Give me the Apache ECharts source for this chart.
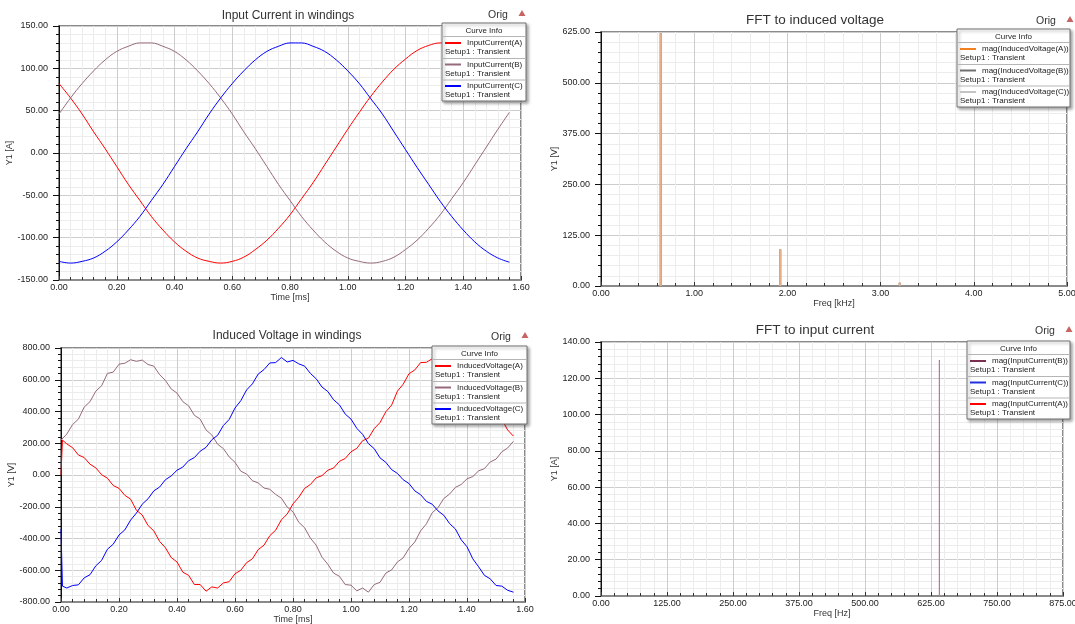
<!DOCTYPE html>
<html lang="en">
<head>
<meta charset="UTF-8">
<title>Windings</title>
<script src="https://cdn.jsdelivr.net/npm/echarts@6/dist/echarts.min.js"></script>
<style>
    html, body { margin: 0; padding: 0; background: #fff; }
    #main { width: 1075px; height: 624px; }
</style>
</head>
<body>
<div id="main"></div>
<script>
    // ---- input current [A] vs time [ms]
    var curTime = [0, 0.04, 0.08, 0.12, 0.16, 0.20, 0.24, 0.28, 0.32, 0.36, 0.40, 0.44, 0.48, 0.52, 0.56, 0.60, 0.64, 0.68, 0.72, 0.76,
        0.80, 0.84, 0.88, 0.92, 0.96, 1.00, 1.04, 1.08, 1.12, 1.16, 1.20, 1.24, 1.28, 1.32, 1.36, 1.40, 1.44, 1.48, 1.52, 1.56];
    var curA = [82, 65, 46, 25, 5, -16, -37, -56, -75, -91, -105, -116, -124, -128, -130, -128, -123, -114, -103, -89,
        -73, -54, -35, -14, 7, 28, 48, 67, 84, 99, 111, 121, 127, 130, 129, 126, 118, 108, 95, 80];
    var curB = [46, 65, 82, 97, 110, 120, 126, 130, 130, 126, 120, 110, 97, 82, 65, 46, 25, 5, -16, -37,
        -56, -75, -91, -105, -116, -124, -128, -130, -128, -123, -114, -103, -89, -73, -54, -35, -14, 7, 28, 48];
    var curC = [-128, -130, -128, -124, -116, -105, -91, -75, -56, -37, -16, 5, 25, 46, 65, 82, 97, 110, 120, 126,
        130, 130, 126, 120, 110, 97, 82, 64, 46, 25, 4, -17, -37, -57, -75, -91, -105, -116, -124, -129];

    // ---- induced voltage [V] vs time [ms]
    var voltTime = [0, 0.005, 0.02, 0.04, 0.06, 0.08, 0.10, 0.12, 0.14, 0.16, 0.18, 0.20, 0.22, 0.24, 0.26, 0.28, 0.30, 0.32, 0.34, 0.36,
        0.38, 0.40, 0.42, 0.44, 0.46, 0.48, 0.50, 0.52, 0.54, 0.56, 0.58, 0.60, 0.62, 0.64, 0.66, 0.68, 0.70, 0.72, 0.74, 0.76,
        0.78, 0.80, 0.82, 0.84, 0.86, 0.88, 0.90, 0.92, 0.94, 0.96, 0.98, 1.00, 1.02, 1.04, 1.06, 1.08, 1.10, 1.12, 1.14, 1.16,
        1.18, 1.20, 1.22, 1.24, 1.26, 1.28, 1.30, 1.32, 1.34, 1.36, 1.38, 1.40, 1.42, 1.44, 1.46, 1.48, 1.50, 1.52, 1.54, 1.56];
    var voltA = [0, 220, 196, 172, 126, 110, 68, 45, 2, -20, -66, -84, -128, -152, -222, -252, -318, -352, -418, -458,
        -520, -548, -612, -632, -690, -690, -732, -705, -712, -680, -672, -622, -600, -552, -528, -470, -442, -382, -348, -282,
        -246, -182, -140, -84, -60, -18, -4, 30, 44, 86, 104, 146, 168, 216, 232, 292, 330, 398, 440, 528,
        572, 638, 662, 708, 710, 732, 722, 730, 704, 686, 632, 600, 544, 510, 458, 436, 384, 350, 284, 245];
    var voltB = [220, 232, 258, 318, 352, 428, 462, 528, 562, 640, 648, 698, 704, 726, 716, 724, 696, 686, 632, 596,
        542, 516, 462, 436, 376, 352, 284, 252, 194, 166, 114, 80, 24, 6, -36, -50, -82, -90, -122, -146,
        -202, -232, -298, -332, -398, -442, -518, -562, -618, -638, -690, -694, -730, -712, -738, -690, -676, -618, -598, -548,
        -522, -462, -422, -352, -308, -238, -206, -148, -120, -78, -60, -24, -10, 26, 40, 82, 100, 146, 170, 212];
    var voltC = [-340, -700, -712, -696, -692, -648, -628, -572, -538, -468, -436, -378, -346, -284, -240, -184, -150, -100, -76, -30,
        -6, 30, 50, 90, 110, 150, 174, 222, 250, 312, 350, 422, 468, 536, 574, 636, 664, 706, 708, 740,
        712, 722, 700, 686, 640, 606, 554, 526, 474, 442, 384, 352, 294, 256, 198, 166, 108, 80, 34, 10,
        -30, -54, -100, -124, -166, -184, -226, -254, -306, -340, -408, -452, -528, -578, -632, -654, -696, -700, -726, -738];

    // ---- FFT of induced voltage: freq [kHz], magnitude [V]
    var fftVFreq = [0.641, 1.923, 3.205];
    var fftVA = [622, 90, 8];
    var fftVB = [622, 90, 8];
    var fftVC = [622, 90, 8];

    // ---- FFT of input current: freq [Hz], magnitude [A]
    var fftIFreq = [641];
    var fftIA = [130];
    var fftIB = [130];
    var fftIC = [130];

    var FONT = '"Liberation Sans", Arial, sans-serif';
    var RED = '#ff0000', MAUVE = '#96697c', BLUE = '#0000ff';

    function pairs(xs, ys) {
        return xs.map(function (x, i) { return [x, ys[i]]; });
    }

    function xAxisOf(idx, min, max, step, name) {
        return {
            type: 'value', gridIndex: idx, min: min, max: max, interval: step,
            name: name, nameLocation: 'middle', nameGap: 13,
            nameTextStyle: { fontSize: 9, color: '#333', fontFamily: FONT },
            axisLine: { show: true, onZero: false, lineStyle: { color: '#8a8a8a', width: 2 } },
            axisTick: { show: true, inside: true, length: 4, lineStyle: { color: '#333' } },
            minorTick: { show: true, splitNumber: 5, length: 3, lineStyle: { color: '#333' } },
            axisLabel: { fontSize: 9, color: '#222', margin: 3, fontFamily: FONT,
                formatter: function (v) { return v.toFixed(2); } },
            splitLine: { show: true, lineStyle: { color: '#cdcdcd' } },
            minorSplitLine: { show: true, lineStyle: { color: '#ececec' } }
        };
    }

    function yAxisOf(idx, min, max, step, name, gap) {
        return {
            type: 'value', gridIndex: idx, min: min, max: max, interval: step,
            name: name, nameLocation: 'middle', nameRotate: 90, nameGap: gap,
            nameTextStyle: { fontSize: 9, color: '#333', fontFamily: FONT },
            axisLine: { show: true, onZero: false, lineStyle: { color: '#111', width: 1 } },
            axisTick: { show: true, length: 6, lineStyle: { color: '#111' } },
            minorTick: { show: true, splitNumber: 5, length: 3, lineStyle: { color: '#111' } },
            axisLabel: { fontSize: 9, color: '#222', margin: 11, fontFamily: FONT,
                formatter: function (v) { return v.toFixed(2); } },
            splitLine: { show: true, lineStyle: { color: '#cdcdcd' } },
            minorSplitLine: { show: true, lineStyle: { color: '#ececec' } }
        };
    }

    function line(name, idx, xs, ys, color, smooth) {
        return {
            name: name, type: 'line', xAxisIndex: idx, yAxisIndex: idx,
            data: pairs(xs, ys), smooth: smooth, showSymbol: false,
            lineStyle: { color: color, width: 1 }, itemStyle: { color: color }
        };
    }

    function spectrum(name, idx, xs, ys, color, width) {
        return {
            name: name, type: 'bar', xAxisIndex: idx, yAxisIndex: idx,
            data: pairs(xs, ys), barWidth: width, barGap: '-100%',
            itemStyle: { color: color }
        };
    }

    function title(text, x, y, size) {
        return {
            text: text, left: x, top: y, textAlign: 'center', padding: 0,
            textStyle: { fontSize: size, fontWeight: 'normal', color: '#333', fontFamily: FONT }
        };
    }

    // ---- the "Curve Info" boxes and the "Orig" marks
    function txt(x, y, s, size, align, color) {
        return {
            type: 'text', x: x, y: y, z: 101, silent: true,
            style: { text: s, fontSize: size, fontFamily: FONT, fill: color || '#222',
                align: align || 'left', verticalAlign: 'middle' }
        };
    }
    function seg(x1, y1, x2, y2, color, w) {
        return {
            type: 'line', z: 101, silent: true,
            shape: { x1: x1, y1: y1, x2: x2, y2: y2 },
            style: { stroke: color, lineWidth: w || 1 }
        };
    }
    function curveInfo(x, y, w, names, colors) {
        var out = [{
            type: 'rect', z: 100, silent: true,
            shape: { x: x, y: y, width: w, height: 78 },
            style: { fill: '#fff', stroke: '#707070', lineWidth: 1,
                shadowBlur: 3, shadowOffsetX: 2, shadowOffsetY: 2, shadowColor: 'rgba(0,0,0,0.35)' }
        }];
        out.push(txt(x + w / 2, y + 8, 'Curve Info', 8, 'center'));
        out.push(seg(x, y + 13.5, x + w, y + 13.5, '#b5b5b5'));
        names.forEach(function (n, i) {
            var r = y + 20 + i * 21.5;
            out.push(seg(x + 3, r, x + 19, r, colors[i], 2));
            out.push(txt(x + 25, r, n, 8));
            out.push(txt(x + 3, r + 9, 'Setup1 : Transient', 8));
            if (i < 2) out.push(seg(x, r + 15.5, x + w, r + 15.5, '#b5b5b5'));
        });
        return out;
    }
    function origMark(x, y) {
        var tx = x + 24, ty = y - 2;
        return [
            txt(x, y, 'Orig', 10.5, 'center', '#333'),
            { type: 'polygon', z: 101, silent: true,
              shape: { points: [[tx - 3.5, ty + 3], [tx + 3.5, ty + 3], [tx, ty - 3]] },
              style: { fill: '#c86464' } }
        ];
    }

    var graphics = [].concat(
        curveInfo(442, 23, 84, ['InputCurrent(A)', 'InputCurrent(B)', 'InputCurrent(C)'], [RED, MAUVE, BLUE]),
        curveInfo(957, 29, 113, ['mag(InducedVoltage(A))', 'mag(InducedVoltage(B))', 'mag(InducedVoltage(C))'],
            ['#f08020', '#707070', '#c4c4c4']),
        curveInfo(432, 346, 95, ['InducedVoltage(A)', 'InducedVoltage(B)', 'InducedVoltage(C)'], [RED, MAUVE, BLUE]),
        curveInfo(967, 341, 103, ['mag(InputCurrent(B))', 'mag(InputCurrent(C))', 'mag(InputCurrent(A))'],
            ['#7a3050', '#2030e0', RED]),
        origMark(498, 15), origMark(1046, 21), origMark(501, 337), origMark(1045, 331)
    );

    var myChart = echarts.init(document.getElementById('main'));

    var option = {
        animation: false,
        backgroundColor: '#fff',
        title: [
            title('Input Current in windings', 288, 10, 12),
            title('FFT to induced voltage', 815, 13, 13.5),
            title('Induced Voltage in windings', 287, 330, 12),
            title('FFT to input current', 815, 323, 13.5)
        ],
        grid: [
            { left: 59, top: 26, width: 462, height: 254, show: true, borderColor: '#8a8a8a', borderWidth: 2, outerBoundsMode: 'none' },
            { left: 601, top: 32, width: 466, height: 254, show: true, borderColor: '#8a8a8a', borderWidth: 2, outerBoundsMode: 'none' },
            { left: 61, top: 348, width: 464, height: 254, show: true, borderColor: '#8a8a8a', borderWidth: 2, outerBoundsMode: 'none' },
            { left: 601, top: 342, width: 462, height: 254, show: true, borderColor: '#8a8a8a', borderWidth: 2, outerBoundsMode: 'none' }
        ],
        xAxis: [
            xAxisOf(0, 0, 1.6, 0.2, 'Time [ms]'),
            xAxisOf(1, 0, 5, 1, 'Freq [kHz]'),
            xAxisOf(2, 0, 1.6, 0.2, 'Time [ms]'),
            xAxisOf(3, 0, 875, 125, 'Freq [Hz]')
        ],
        yAxis: [
            yAxisOf(0, -150, 150, 50, 'Y1 [A]', 37),
            yAxisOf(1, 0, 625, 125, 'Y1 [V]', 35),
            yAxisOf(2, -800, 800, 200, 'Y1 [V]', 38),
            yAxisOf(3, 0, 140, 20, 'Y1 [A]', 35)
        ],
        series: [
            line('InputCurrent(A)', 0, curTime, curA, RED, 0.4),
            line('InputCurrent(B)', 0, curTime, curB, MAUVE, 0.4),
            line('InputCurrent(C)', 0, curTime, curC, BLUE, 0.4),

            spectrum('mag(InducedVoltage(C))', 1, fftVFreq, fftVC, '#c4c4c4', 2),
            spectrum('mag(InducedVoltage(B))', 1, fftVFreq, fftVB, '#707070', 2),
            spectrum('mag(InducedVoltage(A))', 1, fftVFreq, fftVA, '#e9b088', 2),

            line('InducedVoltage(A)', 2, voltTime, voltA, RED, false),
            line('InducedVoltage(B)', 2, voltTime, voltB, MAUVE, false),
            line('InducedVoltage(C)', 2, voltTime, voltC, BLUE, false),

            spectrum('mag(InputCurrent(A))', 3, fftIFreq, fftIA, RED, 1),
            spectrum('mag(InputCurrent(C))', 3, fftIFreq, fftIC, '#2030e0', 1),
            spectrum('mag(InputCurrent(B))', 3, fftIFreq, fftIB, '#b08898', 1)
        ],
        graphic: graphics
    };

    myChart.setOption(option);
</script>
</body>
</html>
